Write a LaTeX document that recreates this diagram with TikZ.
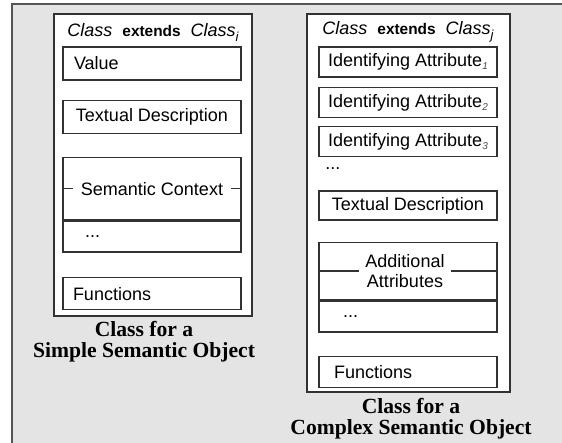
\documentclass[tikz,border=0pt]{standalone}
\usepackage{fontspec}
\newfontfamily\arialfont{Liberation Sans}
\newfontfamily\captionfont{Liberation Serif}
\usetikzlibrary{positioning}
\usepackage{xcolor}
\definecolor{panelgray}{RGB}{228,228,228}
\definecolor{framegray}{RGB}{85,85,85}
\definecolor{boxline}{RGB}{50,50,50}

\newcommand{\idsub}[1]{\raisebox{-1.5pt}{\fontsize{5}{5}\selectfont\itshape\color{black!70}#1}}
\newcommand{\clsub}[1]{\raisebox{-2.5pt}{\fontsize{6.5}{6.5}\selectfont\itshape #1}}
\newcommand{\clhead}[1]{{\itshape Class}\hspace{5pt}{\fontsize{7.7}{9}\selectfont\bfseries extends}\hspace{5pt}{\itshape Class}\clsub{#1}}

\begin{document}
\begin{tikzpicture}[
    x=0.5pt, y=-0.5pt,
    font=\arialfont\fontsize{9}{11}\selectfont,
    classbox/.style={draw=boxline, line width=0.75pt, fill=white, inner sep=0pt},
    box/.style={draw=boxline, line width=0.7pt, fill=white, inner sep=0pt, minimum width=89pt, align=center},
    leftbox/.style={box, align=left, inner xsep=#1, text width=89pt-2*#1},
    rule/.style={draw=boxline, line width=0.7pt},
    gap/.style={fill=white, inner ysep=0.5pt},
    caption/.style={align=center, font=\captionfont\bfseries\fontsize{10.8}{10.5}\selectfont},
]
\useasboundingbox (0,0) rectangle (562,443);

% Panel
\fill[panelgray] (12,4) rectangle (562,443);
\draw[framegray, line width=1.2pt] (12,443) -- (12,4) -- (562,4);

% Simple semantic object
\node[classbox, minimum width=99pt, minimum height=151pt] (simple) at (153,165) {};
\node (simplehead) at (153,32) {\clhead{i}};
\node[leftbox=5.5pt, minimum height=16.5pt] (value) at (152,63.5) {Value};
\node[box, minimum height=16.5pt, below=9.5pt of value] (stext) {Textual Description};
\node[box, minimum height=31pt, below=11.5pt of stext] (context) {};
\node[leftbox=11pt, minimum height=15.5pt, below=0pt of context] (smore) {...};
\node[leftbox=5pt, minimum height=16pt, below=12pt of smore] (sfunc) {Functions};
\draw[rule] (context.west) -- (context.east);
\node[gap, inner xsep=4pt] (contextlabel) at (context) {Semantic Context};
\node[caption] (simplecap) at (144,342) {Class for a\\Simple Semantic Object};

% Complex semantic object
\node[classbox, minimum width=101.5pt, minimum height=189pt] (complex) at (408.5,203) {};
\node (complexhead) at (408,32) {\clhead{j}};
\node[box, minimum height=15pt] (attr1) at (408,62) {Identifying Attribute\idsub{1}};
\node[box, minimum height=15pt, below=4.5pt of attr1] (attr2) {Identifying Attribute\idsub{2}};
\node[box, minimum height=15pt, below=4pt of attr2] (attr3) {Identifying Attribute\idsub{3}};
\node[anchor=west, inner sep=0pt] (cmore1) at (325,169) {...};
\node[box, minimum height=14.5pt, below=16.5pt of attr3] (ctext) {Textual Description};
\node[box, minimum height=28.5pt, below=10.5pt of ctext] (extra) {};
\node[leftbox=12pt, minimum height=15.5pt, below=0pt of extra] (cmore2) {...};
\node[leftbox=7.5pt, minimum height=15.5pt, below=11.5pt of cmore2] (cfunc) {Functions};
\draw[rule] (extra.west) -- (extra.east);
\node[gap, inner xsep=3pt, xshift=-1.5pt, align=center, font=\arialfont\fontsize{9}{10}\selectfont] (extralabel) at (extra) {Additional\\Attributes};
\node[caption] (complexcap) at (411,419) {Class for a\\Complex Semantic Object};

\end{tikzpicture}
\end{document}
